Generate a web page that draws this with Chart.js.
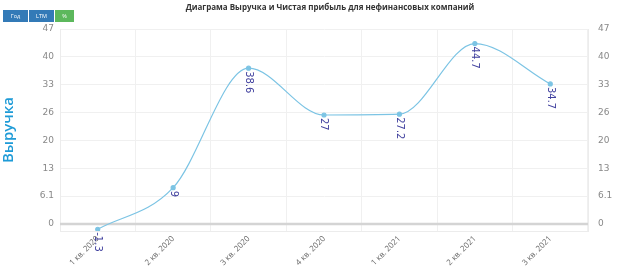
<!DOCTYPE html>
<html>
<head>
<meta charset="utf-8">
<script src="https://cdn.jsdelivr.net/npm/chart.js@4/dist/chart.umd.min.js"></script>
<style>
  body { margin: 0; background: #fff; font-family: "Open Sans", sans-serif; }
  #wrap { position: relative; width: 628px; height: 272px; }
  #chart { position: absolute; left: 0; top: 0; }
  .title { position: absolute; top: 1px; left: 0; width: 660px; text-align: center; font-size: 8px; font-weight: bold; color: #333; }
  .btns { position: absolute; left: 3px; top: 10px; display: flex; gap: 1px; }
  .btns span { display: block; height: 12px; line-height: 12px; color: #fff; font-size: 5.5px; text-align: center; }
  .blue { background: #337ab7; width: 25px; }
  .green { background: #5cb85c; width: 19px; }
</style>
</head>
<body>
<div id="wrap">
  <canvas id="chart" width="628" height="272"></canvas>
  <div class="title">Диаграма Выручка и Чистая прибыль для нефинансовых компаний</div>
  <div class="btns"><span class="blue">Год</span><span class="blue">LTM</span><span class="green">%</span></div>
</div>
<script>
  const quarters = ["1 кв. 2020", "2 кв. 2020", "3 кв. 2020", "4 кв. 2020", "1 кв. 2021", "2 кв. 2021", "3 кв. 2021"];
  const revenue = [-1.3, 9, 38.6, 27, 27.2, 44.7, 34.7];
  const tickValues = [0, 6.9, 13.8, 20.7, 27.6, 34.5, 41.4, 48.3];
  const tickLabels = ["0", "6.1", "13", "20", "26", "33", "40", "47"];

  // линия нуля рисуется отдельно, поверх сетки
  const zeroLine = {
    id: "zeroLine",
    beforeDatasetsDraw(chart) {
      const { ctx, chartArea } = chart;
      const y = chart.scales.y.getPixelForValue(0);
      ctx.save();
      ctx.strokeStyle = "#d4d4d4";
      ctx.lineWidth = 2.5;
      ctx.beginPath();
      ctx.moveTo(chartArea.left, y);
      ctx.lineTo(chartArea.right, y);
      ctx.stroke();
      ctx.restore();
    }
  };

  // подписи значений, повернутые вертикально
  const valueLabels = {
    id: "valueLabels",
    afterDraw(chart) {
      const ctx = chart.ctx;
      const meta = chart.getDatasetMeta(0);
      ctx.save();
      ctx.font = "10px 'DejaVu Sans', sans-serif";
      ctx.fillStyle = "#40409e";
      ctx.textAlign = "left";
      ctx.textBaseline = "middle";
      meta.data.forEach((pt, i) => {
        ctx.save();
        ctx.translate(pt.x, pt.y + 3);
        ctx.rotate(Math.PI / 2);
        ctx.fillText(String(revenue[i]), 0, 0);
        ctx.restore();
      });
      ctx.restore();
    }
  };

  const setTicks = axis => { axis.ticks = tickValues.map(v => ({ value: v })); };

  new Chart(document.getElementById("chart"), {
    type: "line",
    data: {
      labels: quarters,
      datasets: [{
        label: "Выручка",
        data: revenue,
        borderColor: "#7cc4e4",
        backgroundColor: "#7cc4e4",
        borderWidth: 1.2,
        pointRadius: 2,
        pointHoverRadius: 2,
        cubicInterpolationMode: "monotone",
        fill: false
      }]
    },
    options: {
      responsive: false,
      animation: false,
      events: [],
      layout: { padding: { top: 29, right: 0, left: 0, bottom: 0 } },
      plugins: { legend: { display: false }, tooltip: { enabled: false } },
      scales: {
        x: {
          offset: true,
          grid: { color: "#f0f0f0", offset: true, drawTicks: false },
          border: { color: "#ececec" },
          ticks: {
            color: "#666",
            font: { size: 8, family: "'Open Sans', sans-serif" },
            maxRotation: 45,
            minRotation: 45,
            padding: 3
          },
          afterFit: axis => { axis.height = 41; }
        },
        y: {
          position: "left",
          min: -1.73,
          max: 48.3,
          afterBuildTicks: setTicks,
          grid: { color: "#f0f0f0", drawTicks: false },
          border: { color: "#ececec" },
          ticks: {
            color: "#888",
            font: { size: 9, family: "'DejaVu Sans', sans-serif" },
            padding: 6,
            callback: (v, i) => tickLabels[i]
          },
          title: {
            display: true,
            text: "Выручка",
            color: "#1e9bd7",
            font: { size: 15, weight: 600, family: "'Open Sans', sans-serif" },
            padding: { top: 0, bottom: 6 }
          },
          afterFit: axis => { axis.width = 60; }
        },
        y2: {
          position: "right",
          min: -1.73,
          max: 48.3,
          afterBuildTicks: setTicks,
          grid: { drawOnChartArea: false, drawTicks: false },
          border: { color: "#ececec" },
          ticks: {
            color: "#888",
            font: { size: 9, family: "'DejaVu Sans', sans-serif" },
            padding: 10,
            callback: (v, i) => tickLabels[i]
          },
          afterFit: axis => { axis.width = 40; }
        }
      }
    },
    plugins: [zeroLine, valueLabels]
  });
</script>
</body>
</html>
